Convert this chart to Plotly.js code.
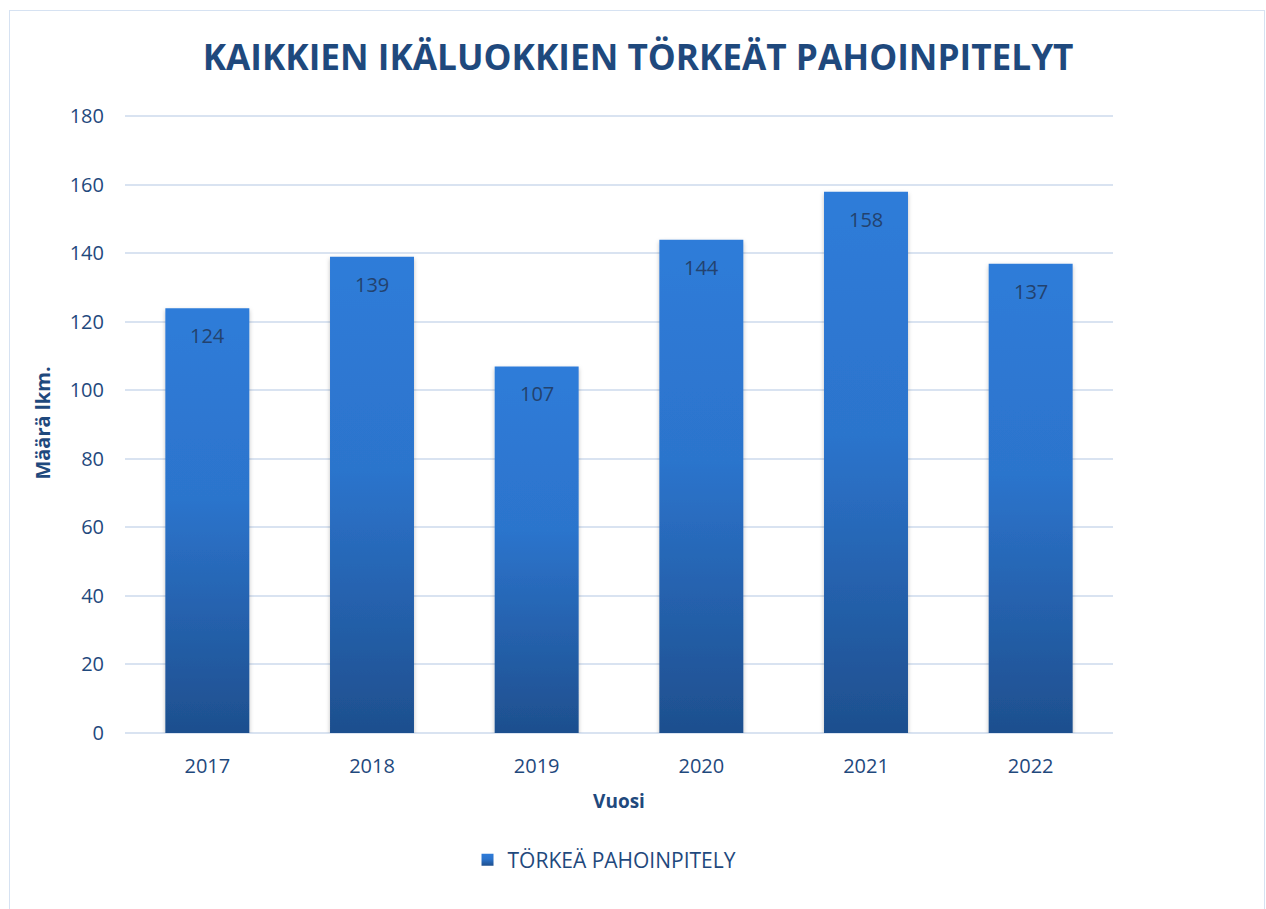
<!DOCTYPE html>
<html>
<head>
<meta charset="utf-8">
<script src="https://cdn.plot.ly/plotly-3.0.1.min.js"></script>
<style>
  html, body { margin: 0; padding: 0; background: #fff; }
  #wrap { position: relative; width: 1266px; height: 909px; overflow: hidden; }
  #chart { position: absolute; left: 0; top: 0; width: 1266px; height: 909px; }
  #frame { position: absolute; left: 9px; top: 10px; width: 1254px; height: 920px;
           border: 1.5px solid #D6E2F2; pointer-events: none; }
</style>
</head>
<body>
<div id="wrap">
  <div id="chart"></div>
  <div id="frame"></div>
</div>
<script>
// ---- data ----
const years = ['2017', '2018', '2019', '2020', '2021', '2022'];
const counts = [124, 139, 107, 144, 158, 137];
const seriesName = 'TÖRKEÄ PAHOINPITELY';
const chartTitle = 'KAIKKIEN IKÄLUOKKIEN TÖRKEÄT PAHOINPITELYT';
const xTitle = 'Vuosi';
const yTitle = 'Määrä lkm.';
const yTicks = [0, 20, 40, 60, 80, 100, 120, 140, 160, 180];

const FONT = 'Open Sans, Noto Sans, sans-serif';
const DARK = '#1F497D';

const trace = {
  type: 'bar',
  x: years,
  y: counts,
  name: seriesName,
  width: 0.51,
  marker: { color: '#2B6FC4', line: { width: 0 } },
  hoverinfo: 'x+y',
  showlegend: true
};

// labels inside the top of each bar (category index positions on the category axis)
const annotations = years.map((yr, i) => ({
  x: i, y: counts[i], xref: 'x', yref: 'y',
  text: String(counts[i]), showarrow: false,
  yanchor: 'top', yshift: -12,
  font: { family: FONT, size: 20, color: '#23426E' }
}));

const layout = {
  width: 1266, height: 909,
  paper_bgcolor: '#ffffff', plot_bgcolor: '#ffffff',
  margin: { l: 125, r: 153, t: 113, b: 176 },
  title: {
    text: '<b>' + chartTitle + '</b>',
    font: { family: FONT, size: 35.2, color: DARK },
    x: 0.504, xref: 'container', xanchor: 'center',
    y: 0.936, yref: 'container', yanchor: 'middle'
  },
  xaxis: {
    type: 'category',
    range: [-0.5, years.length - 0.5],
    tickfont: { family: FONT, size: 20, color: DARK },
    showgrid: false, showline: false, zeroline: false,
    ticks: '', ticklabelstandoff: 19,
    title: { text: '<b>' + xTitle + '</b>', font: { family: FONT, size: 19, color: DARK }, standoff: 16 }
  },
  yaxis: {
    range: [0, 181],
    tickvals: yTicks,
    tickfont: { family: FONT, size: 20, color: DARK },
    showgrid: true, gridcolor: '#D9E3F1', gridwidth: 2,
    zeroline: true, zerolinecolor: '#D9E3F1', zerolinewidth: 2,
    showline: false, ticks: '', ticklabelstandoff: 20,
    title: { text: '<b>' + yTitle + '</b>', font: { family: FONT, size: 20, color: DARK }, standoff: 13 }
  },
  showlegend: true,
  legend: {
    orientation: 'h', xref: 'container', yref: 'container',
    x: 0.4775, xanchor: 'center', y: 1 - 860 / 909, yanchor: 'middle',
    font: { family: FONT, size: 21, color: DARK },
    itemwidth: 30
  },
  annotations: annotations,
  bargap: 0.49
};

Plotly.newPlot('chart', [trace], layout, { displayModeBar: false, staticPlot: true }).then(gd => {
  // add a vertical gradient + soft shadow to the bars drawn by Plotly
  const svg = gd.querySelector('svg.main-svg');
  const ns = 'http://www.w3.org/2000/svg';
  let defs = svg.querySelector('defs');
  if (!defs) { defs = document.createElementNS(ns, 'defs'); svg.insertBefore(defs, svg.firstChild); }
  const grad = document.createElementNS(ns, 'linearGradient');
  grad.setAttribute('id', 'barGrad');
  grad.setAttribute('x1', '0'); grad.setAttribute('y1', '0');
  grad.setAttribute('x2', '0'); grad.setAttribute('y2', '1');
  [['0', '#2F7CD9'], ['0.45', '#2C74CC'], ['1', '#1E4F8E']].forEach(([o, c]) => {
    const s = document.createElementNS(ns, 'stop');
    s.setAttribute('offset', o); s.setAttribute('stop-color', c);
    grad.appendChild(s);
  });
  defs.appendChild(grad);
  const filt = document.createElementNS(ns, 'filter');
  filt.setAttribute('id', 'barShadow');
  filt.setAttribute('x', '-10%'); filt.setAttribute('y', '-5%');
  filt.setAttribute('width', '120%'); filt.setAttribute('height', '110%');
  filt.innerHTML = '<feDropShadow dx="0" dy="2" stdDeviation="2" flood-color="#000" flood-opacity="0.25"/>';
  defs.appendChild(filt);
  gd.querySelectorAll('.barlayer .point path').forEach(p => {
    p.style.fill = 'url(#barGrad)';
    p.setAttribute('filter', 'url(#barShadow)');
  });
  gd.querySelectorAll('.legend .legendpoints path').forEach(p => {
    p.style.fill = 'url(#barGrad)';
  });
});
</script>
</body>
</html>
